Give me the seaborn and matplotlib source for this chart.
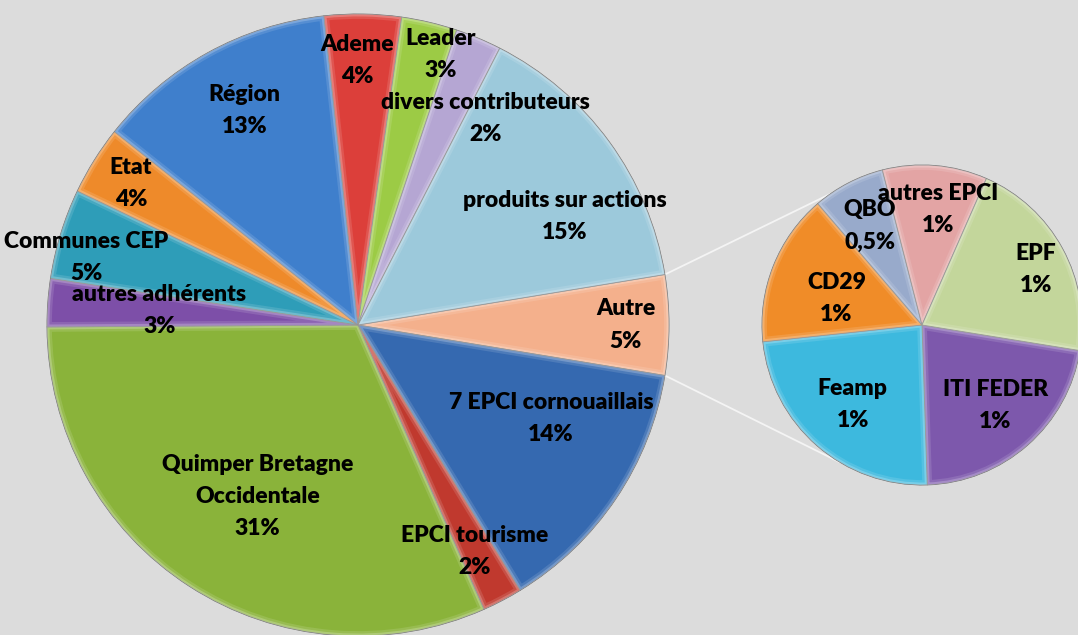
import numpy as np
import matplotlib.pyplot as plt
import seaborn as sns

sns.set_style("white")
plt.rcParams['font.family'] = ['Lato', 'DejaVu Sans']

# main pie, clockwise starting with "Autre" (exploded into the small pie)
main_labels = ["Autre", "7 EPCI cornouaillais", "EPCI tourisme",
               "Quimper Bretagne\nOccidentale", "autres adhérents", "Communes CEP",
               "Etat", "Région", "Ademe", "Leader", "divers contributeurs",
               "produits sur actions"]
main_values = [5.2, 13.7, 2.1, 31.6, 2.5, 4.7, 3.6, 12.6, 4.0, 2.9, 2.4, 14.9]
main_pct = ["5%", "14%", "2%", "31%", "3%", "5%", "4%", "13%", "4%", "3%", "2%", "15%"]

# secondary pie (detail of "Autre"), clockwise
sub_labels = ["ITI FEDER", "Feamp", "CD29", "QBO", "autres EPCI", "EPF"]
sub_values = [1.14, 1.24, 0.80, 0.38, 0.55, 1.09]
sub_pct = ["1%", "1%", "1%", "0,5%", "1%", "1%"]

main_colors = ["#F4B08C", "#3569B0", "#C0392E", "#8AB33A", "#7D4FA8", "#2E9DB8",
               "#EE8A2A", "#3F7FCC", "#DC3F3A", "#9CCB45", "#B5A6D3", "#9CC9DB"]
sub_colors = ["#7D58AC", "#3DB9DE", "#F08C28", "#98AACB", "#E3A4A4", "#C3D69B"]

# label placement (radius fraction, angle shift in degrees) - Excel "best fit" look
main_lab_r = [0.86, 0.69, 0.82, 0.64, 0.64, 0.90, 0.86, 0.78, 0.85, 0.91, 0.78, 0.75]
main_lab_da = [0, 8, -0.5, 2.5, 0, 3.2, 0, -1, 1, -3.7, -9, -8.4]
sub_lab_r = [0.68, 0.66, 0.56, 0.70, 0.73, 0.79]
sub_lab_da = [1, 0, 4.5, 0.3, -3, -2.5]

W, H = 1078, 635
main_c, main_r = (358, H - 325), 311
sub_c, sub_r = (922, H - 325), 160

fig = plt.figure(figsize=(W / 100, H / 100), dpi=100, facecolor="#DCDCDC")
ax = fig.add_axes([0, 0, 1, 1])
ax.set_facecolor("#DCDCDC")

start = 180 * main_values[0] / sum(main_values)
wedges, _ = ax.pie(main_values, colors=main_colors, startangle=start, counterclock=False,
                   center=main_c, radius=main_r,
                   wedgeprops=dict(edgecolor="#6f6f6f", linewidth=0.6))
sub_wedges, _ = ax.pie(sub_values, colors=sub_colors, startangle=-9.2, counterclock=False,
                       center=sub_c, radius=sub_r,
                       wedgeprops=dict(edgecolor="#6f6f6f", linewidth=0.6))

# soft bevel: light inner rim on every slice, clipped to the slice itself
for w in list(wedges) + list(sub_wedges):
    for lw, al in [(7, 0.12), (3.5, 0.22)]:
        rim = plt.matplotlib.patches.Wedge(w.center, w.r, w.theta1, w.theta2,
                                           facecolor="none", edgecolor="white",
                                           linewidth=lw, alpha=al)
        ax.add_patch(rim)
        rim.set_clip_path(w)


def put_labels(ws, names, pcts, rf, da, c, r):
    for w, n, p, f, d in zip(ws, names, pcts, rf, da):
        a = np.deg2rad((w.theta1 + w.theta2) / 2 + d)
        ax.text(c[0] + f * r * np.cos(a), c[1] + f * r * np.sin(a), n + "\n" + p,
                ha="center", va="center", multialignment="center",
                fontsize=16.5, fontweight="heavy", color="black", linespacing=1.65)


put_labels(wedges, main_labels, main_pct, main_lab_r, main_lab_da, main_c, main_r)
put_labels(sub_wedges, sub_labels, sub_pct, sub_lab_r, sub_lab_da, sub_c, sub_r)

# connector lines from the "Autre" slice to the secondary pie
autre = wedges[0]
for a_main, a_sub in [(autre.theta2, 125), (autre.theta1, -121)]:
    p0 = (main_c[0] + main_r * np.cos(np.deg2rad(a_main)), main_c[1] + main_r * np.sin(np.deg2rad(a_main)))
    p1 = (sub_c[0] + sub_r * np.cos(np.deg2rad(a_sub)), sub_c[1] + sub_r * np.sin(np.deg2rad(a_sub)))
    ax.plot([p0[0], p1[0]], [p0[1], p1[1]], color="#F4F4F4", lw=1.3, zorder=0.5)

ax.set_xlim(0, W)
ax.set_ylim(0, H)
ax.set_aspect("equal")
ax.axis("off")

fig.savefig("out.png", dpi=100, facecolor=fig.get_facecolor())
